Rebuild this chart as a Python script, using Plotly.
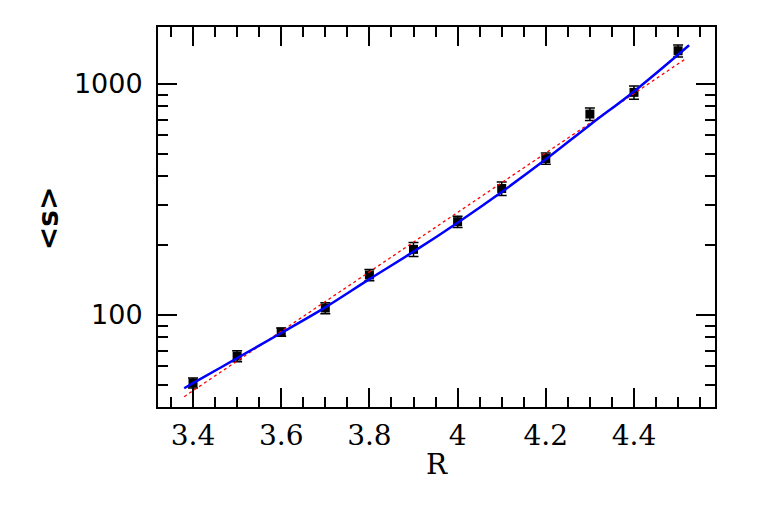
import numpy as np
import plotly.graph_objects as go

# measured points with error bars
r_vals = [3.4, 3.5, 3.6, 3.7, 3.8, 3.9, 4.0, 4.1, 4.2, 4.3, 4.4, 4.5]
s_mean = [50.8, 66.4, 84.4, 107.2, 149, 192.4, 253.5, 353, 476, 741, 920, 1393]
s_err = [2.5, 3.6, 3.4, 5.9, 8.2, 13.4, 14.4, 23.6, 27, 46, 60, 83]

# blue fit curve
fit_r = [3.38, 3.4, 3.5, 3.6, 3.7, 3.8, 3.9, 4.0, 4.1, 4.2, 4.3, 4.4, 4.525]
fit_s = [48.2, 50.7, 65.0, 83.6, 107.9, 143, 188, 251, 341, 472, 665, 929, 1472]

# red dotted exponential (straight on log axis)
exp_r = [3.38, 4.516]
exp_s = [44.3, 1282]

fig = go.Figure()

fig.add_trace(go.Scatter(
    x=r_vals, y=s_mean, mode="markers",
    marker=dict(symbol="square", size=9, color="black"),
    error_y=dict(type="data", array=s_err, color="black", thickness=1.5, width=5),
    showlegend=False,
))
fig.add_trace(go.Scatter(
    x=exp_r, y=exp_s, mode="lines",
    line=dict(color="red", width=1.3, dash="dot"),
    showlegend=False,
))
fig.add_trace(go.Scatter(
    x=fit_r, y=fit_s, mode="lines", line_shape="spline",
    line=dict(color="#0000ff", width=2.5),
    showlegend=False,
))

axis_common = dict(
    showline=True, linecolor="black", linewidth=2, mirror="allticks",
    ticks="inside", ticklen=19, tickwidth=2, tickcolor="black",
    showgrid=False, zeroline=False,
)

fig.update_xaxes(
    range=[3.3206, 4.5837],
    tickvals=[3.4, 3.6, 3.8, 4.0, 4.2, 4.4], ticktext=["3.4", "3.6", "3.8", "4", "4.2", "4.4"],
    minor=dict(ticks="inside", ticklen=10, tickwidth=2, tickcolor="black", dtick=0.05, tick0=3.4),
    tickfont=dict(family="DejaVu Serif", size=28, color="black"),
    ticklabelstandoff=2,
    **axis_common,
)
fig.update_yaxes(
    type="log", range=[1.6017, 3.2468],
    tickvals=[100, 1000], ticktext=["100", "1000"],
    minor=dict(ticks="inside", ticklen=10, tickwidth=2, tickcolor="black", dtick="D1"),
    tickfont=dict(family="DejaVu Sans", size=27, color="black"),
    ticklabelstandoff=8,
    **axis_common,
)

fig.add_annotation(
    text="R", xref="paper", yref="paper", x=0.5, y=-0.152,
    showarrow=False, font=dict(family="DejaVu Serif", size=28, color="black"),
    xanchor="center", yanchor="middle",
)
fig.add_annotation(
    text="<b>&lt;s&gt;</b>", xref="paper", yref="paper", x=-0.1975, y=0.497,
    textangle=-90, showarrow=False,
    font=dict(family="DejaVu Sans", size=28, color="black"),
    xanchor="center", yanchor="middle",
)

fig.update_layout(
    width=763, height=525,
    margin=dict(l=150, r=56, t=19, b=126),
    plot_bgcolor="white", paper_bgcolor="white",
)

fig.write_html("out.html")
